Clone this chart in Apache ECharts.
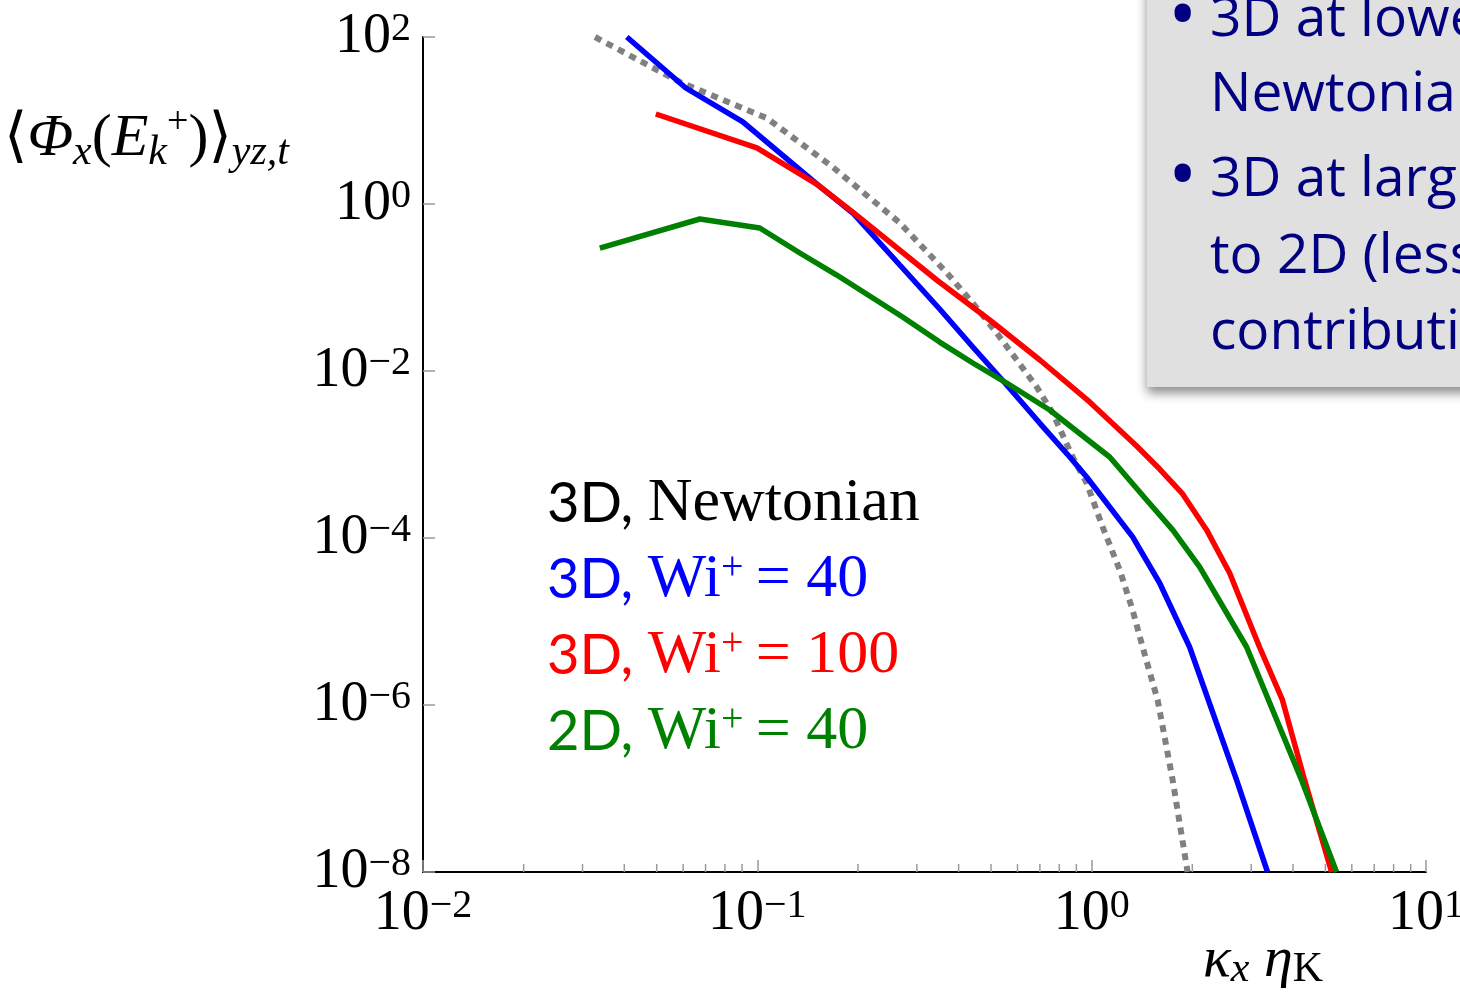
<!DOCTYPE html>
<html>
<head>
<meta charset="utf-8">
<script src="https://cdn.jsdelivr.net/npm/echarts@6/dist/echarts.min.js"></script>
<style>
  html, body { margin: 0; padding: 0; background: #ffffff; }
  #chart { width: 1460px; height: 1001px; }
</style>
</head>
<body>
<div id="chart"></div>
<script>
// Streamwise spectra of the turbulent kinetic energy flux, kx*eta_K on x, <Phi_x(E_k+)> on y
const seriesNames = ['3D, Newtonian', '3D, Wi+ = 40', '3D, Wi+ = 100', '2D, Wi+ = 40'];
const seriesColors = ['#808080', '#0000ff', '#ff0000', '#008000'];
const legendColors = ['#000000', '#0000ff', '#ff0000', '#008000'];

const newtonianKx  = [0.0327, 0.0586, 0.1067, 0.168, 0.267, 0.369, 0.441, 0.520, 0.597, 0.685, 0.765, 0.877, 0.966, 1.079, 1.213, 1.326, 1.42, 1.575, 1.747, 1.936];
const newtonianPhi = [100, 28.9, 10.7, 2.77, 0.592, 0.149, 0.0652, 0.0285, 0.01355, 0.00643, 0.00314, 9.33e-4, 4.56e-4, 1.35e-4, 4.14e-5, 1.37e-5, 4.95e-6, 1.15e-6, 1.26e-7, 1e-8];

const wi40Kx  = [0.0407, 0.0611, 0.0905, 0.1517, 0.193, 0.2667, 0.351, 0.441, 0.557, 0.699, 0.860, 0.966, 1.326, 1.597, 1.963, 2.714, 3.357];
const wi40Phi = [100, 24.5, 9.6, 1.69, 0.78, 0.186, 0.0553, 0.01937, 0.0068, 0.00238, 9.33e-4, 5.38e-4, 1.03e-4, 2.89e-5, 4.95e-6, 1.26e-7, 1e-8];

const wi100Kx  = [0.0497, 0.0997, 0.1517, 0.193, 0.344, 0.4955, 0.700, 0.986, 1.363, 1.597, 1.871, 2.207, 2.586, 3.177, 3.72, 4.334, 5.22];
const wi100Phi = [11.96, 4.69, 1.69, 0.80, 0.123, 0.0408, 0.01355, 0.00426, 0.001265, 6.7e-4, 3.37e-4, 1.25e-4, 3.81e-5, 4.95e-6, 1.15e-6, 1.26e-7, 1e-8];

const twoDKx  = [0.0338, 0.0673, 0.1017, 0.134, 0.1728, 0.272, 0.351, 0.441, 0.557, 0.749, 1.132, 1.46, 1.747, 2.103, 2.907, 4.245, 5.40];
const twoDPhi = [0.297, 0.661, 0.516, 0.259, 0.141, 0.0443, 0.0222, 0.01247, 0.00718, 0.00341, 9.33e-4, 2.85e-4, 1.25e-4, 4.5e-5, 4.95e-6, 1.26e-7, 1e-8];

// minor ticks of the logarithmic x axis (2..9 within each decade)
const xMinorTicks = [0.02, 0.03, 0.04, 0.05, 0.06, 0.07, 0.08, 0.09,
                     0.2, 0.3, 0.4, 0.5, 0.6, 0.7, 0.8, 0.9,
                     2, 3, 4, 5, 6, 7, 8, 9];

const noteLines = ['3D at lower', 'Newtonian', '3D at larger', 'to 2D (less', 'contribution'];

const serif = "'Liberation Serif', 'Times New Roman', 'DejaVu Serif', serif";
const sans = "Lato, 'Open Sans', 'Noto Sans', sans-serif";
const noteFont = "'Open Sans', Lato, 'Noto Sans', sans-serif";

function zip(xs, ys) { return xs.map((x, i) => [x, ys[i]]); }

function powLabel(v) {
  const e = Math.round(Math.log10(v));
  return '{b|10}{s|' + (e < 0 ? '\u2212' + (-e) : String(e)) + '}';
}
const tickRich = {
  b: { fontFamily: serif, fontSize: 56, lineHeight: 56, color: '#000', verticalAlign: 'middle' },
  s: { fontFamily: serif, fontSize: 40, lineHeight: 22, color: '#000', verticalAlign: 'top' }
};

// legend rich styles, one set per colour
const legendRich = {};
legendColors.forEach((c, i) => {
  legendRich['sa' + i] = { fontFamily: sans, fontSize: 56, lineHeight: 64, color: c, verticalAlign: 'middle' };
  legendRich['se' + i] = { fontFamily: serif, fontSize: 62, lineHeight: 64, color: c, verticalAlign: 'middle' };
  legendRich['su' + i] = { fontFamily: serif, fontSize: 40, lineHeight: 30, color: c, verticalAlign: 'top' };
});
function legendLabel(name) {
  const i = seriesNames.indexOf(name);
  const cut = name.indexOf(', ');
  const head = name.slice(0, cut + 1);
  const rest = name.slice(cut + 2);
  let out = '{sa' + i + '|' + head + ' }';
  if (rest.indexOf('Wi+') === 0) {
    out += '{se' + i + '|Wi}{su' + i + '|+}{se' + i + '|' + rest.slice(3).replace(' = ', '\u2009= ') + '}';
  } else {
    out += '{se' + i + '|' + rest + '}';
  }
  return out;
}

const chart = echarts.init(document.getElementById('chart'), null, { renderer: 'canvas' });

const option = {
  animation: false,
  backgroundColor: '#ffffff',
  grid: { left: 423, right: 34, top: 37, bottom: 129, containLabel: false, outerBoundsMode: 'none' },
  xAxis: {
    type: 'log', logBase: 10, min: 0.01, max: 10, splitNumber: 3,
    axisLine: { show: true, onZero: false, lineStyle: { color: '#000', width: 2 } },
    axisTick: { show: true, inside: true, length: 12, lineStyle: { color: '#9a9a9a', width: 1.5 } },
    minorTick: { show: false },
    splitLine: { show: false },
    axisLabel: { margin: 14, formatter: powLabel, rich: tickRich, showMinLabel: true, showMaxLabel: true, hideOverlap: false }
  },
  yAxis: {
    type: 'log', logBase: 100, min: 1e-8, max: 100, splitNumber: 5,
    axisLine: { show: true, onZero: false, lineStyle: { color: '#000', width: 2 } },
    axisTick: { show: true, inside: true, length: 12, lineStyle: { color: '#9a9a9a', width: 1.5 } },
    minorTick: { show: false },
    splitLine: { show: false },
    axisLabel: { margin: 12, formatter: powLabel, rich: tickRich, showMinLabel: true, showMaxLabel: true, hideOverlap: false }
  },
  legend: {
    orient: 'vertical', left: 542, top: 472, padding: 0,
    itemGap: 12, itemWidth: 0, itemHeight: 10,
    selectedMode: false,
    data: seriesNames.map(n => ({ name: n, icon: 'none' })),
    formatter: legendLabel,
    textStyle: { rich: legendRich, lineHeight: 64 }
  },
  series: [
    {
      name: seriesNames[0], type: 'line', symbol: 'none', data: zip(newtonianKx, newtonianPhi),
      lineStyle: { color: seriesColors[0], width: 6, type: [7, 6], cap: 'butt' },
      itemStyle: { color: seriesColors[0] }, z: 2
    },
    {
      name: seriesNames[1], type: 'line', symbol: 'none', data: zip(wi40Kx, wi40Phi),
      lineStyle: { color: seriesColors[1], width: 5.5 }, itemStyle: { color: seriesColors[1] }, z: 3
    },
    {
      name: seriesNames[2], type: 'line', symbol: 'none', data: zip(wi100Kx, wi100Phi),
      lineStyle: { color: seriesColors[2], width: 5.5 }, itemStyle: { color: seriesColors[2] }, z: 4
    },
    {
      name: seriesNames[3], type: 'line', symbol: 'none', data: zip(twoDKx, twoDPhi),
      lineStyle: { color: seriesColors[3], width: 5.5 }, itemStyle: { color: seriesColors[3] }, z: 5
    },
    {
      // short inward minor ticks on the x axis
      type: 'custom', silent: true, z: 1,
      data: xMinorTicks.map(v => [v, 1e-8]),
      encode: { x: 0, y: 1 },
      renderItem: function (params, api) {
        const p = api.coord([api.value(0), api.value(1)]);
        return {
          type: 'line',
          shape: { x1: p[0], y1: p[1], x2: p[0], y2: p[1] - 8 },
          style: { stroke: '#9a9a9a', lineWidth: 1.5 }
        };
      }
    }
  ],
  graphic: [
    {
      // y axis title
      type: 'text', x: 4, y: 104, z: 10,
      style: {
        text: '{rm|\u27e8}{it|\u03a6}{sub|x}{rm|(}{it|E}{sub|k}{sup|+}{rm|)}{rm|\u27e9}{sub|yz,t}',
        verticalAlign: 'top', align: 'left',
        rich: {
          rm:  { fontFamily: serif, fontSize: 60, lineHeight: 70, fill: '#000', verticalAlign: 'middle' },
          it:  { fontFamily: serif, fontStyle: 'italic', fontSize: 60, lineHeight: 70, fill: '#000', verticalAlign: 'middle' },
          sub: { fontFamily: serif, fontStyle: 'italic', fontSize: 42, lineHeight: 36, fill: '#000', verticalAlign: 'bottom' },
          sup: { fontFamily: serif, fontSize: 38, lineHeight: 28, fill: '#000', verticalAlign: 'top' }
        }
      }
    },
    {
      // x axis title
      type: 'text', x: 1203, y: 931, z: 10,
      style: {
        text: '{it|\u03ba}{sub|x}{it| \u03b7}{rsub|K}',
        verticalAlign: 'top', align: 'left',
        rich: {
          it:   { fontFamily: serif, fontStyle: 'italic', fontSize: 58, lineHeight: 60, fill: '#000', verticalAlign: 'middle' },
          sub:  { fontFamily: serif, fontStyle: 'italic', fontSize: 42, lineHeight: 20, fill: '#000', verticalAlign: 'bottom' },
          rsub: { fontFamily: serif, fontSize: 42, lineHeight: 20, fill: '#000', verticalAlign: 'bottom' }
        }
      }
    },
    {
      // note box
      type: 'group', z: 20,
      children: [
        {
          type: 'rect',
          shape: { x: 1147, y: -30, width: 400, height: 417 },
          style: { fill: '#e0e0e0', shadowBlur: 10, shadowOffsetX: 0, shadowOffsetY: 6, shadowColor: 'rgba(0,0,0,0.45)' }
        },
        { type: 'text', x: 1168, y: 20, style: { text: '\u2022', font: '78px ' + noteFont, fill: '#000080', verticalAlign: 'middle' } },
        { type: 'text', x: 1168, y: 180, style: { text: '\u2022', font: '78px ' + noteFont, fill: '#000080', verticalAlign: 'middle' } },
        { type: 'text', x: 1210, y: 20,  style: { text: noteLines[0], font: '55px ' + noteFont, fill: '#000080', verticalAlign: 'middle' } },
        { type: 'text', x: 1210, y: 95,  style: { text: noteLines[1], font: '55px ' + noteFont, fill: '#000080', verticalAlign: 'middle' } },
        { type: 'text', x: 1210, y: 180, style: { text: noteLines[2], font: '55px ' + noteFont, fill: '#000080', verticalAlign: 'middle' } },
        { type: 'text', x: 1210, y: 257, style: { text: noteLines[3], font: '55px ' + noteFont, fill: '#000080', verticalAlign: 'middle' } },
        { type: 'text', x: 1210, y: 333, style: { text: noteLines[4], font: '55px ' + noteFont, fill: '#000080', verticalAlign: 'middle' } }
      ]
    }
  ]
};

chart.setOption(option);
</script>
</body>
</html>
